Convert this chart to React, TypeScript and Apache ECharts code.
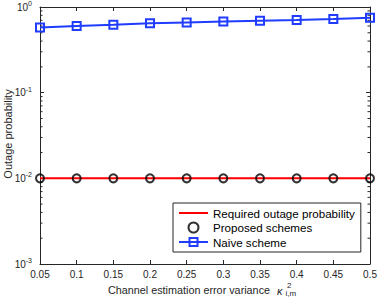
import React, { useEffect, useRef } from "react";
import * as echarts from "echarts";

const xValues = [0.05, 0.1, 0.15, 0.2, 0.25, 0.3, 0.35, 0.4, 0.45, 0.5];
const requiredOutage = [0.01, 0.01, 0.01, 0.01, 0.01, 0.01, 0.01, 0.01, 0.01, 0.01];
const proposedSchemes = [0.01, 0.01, 0.01, 0.01, 0.01, 0.01, 0.01, 0.01, 0.01, 0.01];
const naiveScheme = [0.575, 0.6, 0.62, 0.645, 0.66, 0.675, 0.69, 0.705, 0.725, 0.75];
const minorTickValues = [
  0.002, 0.003, 0.004, 0.005, 0.006, 0.007, 0.008, 0.009,
  0.02, 0.03, 0.04, 0.05, 0.06, 0.07, 0.08, 0.09,
  0.2, 0.3, 0.4, 0.5, 0.6, 0.7, 0.8, 0.9,
];
const seriesNames = ["Required outage probability", "Proposed schemes", "Naive scheme"];
const xAxisTitle = "Channel estimation error variance";
const yAxisTitle = "Outage probability";

const FONT = "Liberation Sans, Arial, Helvetica, sans-serif";
const AXIS_COLOR = "#262626";
const BLUE = "#1f3cff";
const RED = "#ff0000";

export default function App() {
  const ref = useRef<HTMLDivElement>(null);
  useEffect(() => {
    if (!ref.current) return;
    const chart = echarts.init(ref.current, undefined, { renderer: "svg" });
    const axisCommon = {
      axisLine: { show: true, lineStyle: { color: AXIS_COLOR, width: 1 } },
      splitLine: { show: false },
    };
    const textStyleBase = { fill: AXIS_COLOR, fontFamily: FONT, verticalAlign: "middle", align: "left" };
    chart.setOption({
      animation: false,
      backgroundColor: "#ffffff",
      textStyle: { fontFamily: FONT },
      grid: { left: 40, right: 12, top: 5, bottom: 38, containLabel: false },
      xAxis: [
        {
          type: "value",
          min: 0.05,
          max: 0.5,
          interval: 0.05,
          position: "bottom",
          ...axisCommon,
          axisTick: { show: true, inside: true, length: 4, lineStyle: { color: AXIS_COLOR } },
          axisLabel: {
            show: true,
            margin: 5,
            fontSize: 10,
            color: AXIS_COLOR,
            fontFamily: FONT,
            formatter: (v: number) => String(Math.round(v * 100) / 100),
          },
        },
        {
          type: "value",
          min: 0.05,
          max: 0.5,
          interval: 0.05,
          position: "top",
          ...axisCommon,
          axisTick: { show: true, inside: true, length: 4, lineStyle: { color: AXIS_COLOR } },
          axisLabel: { show: false },
        },
      ],
      yAxis: [
        {
          type: "log",
          logBase: 10,
          min: 0.001,
          max: 1,
          position: "left",
          ...axisCommon,
          axisTick: { show: true, inside: true, length: 4, lineStyle: { color: AXIS_COLOR } },
          axisLabel: {
            show: true,
            margin: 8,
            color: AXIS_COLOR,
            formatter: (v: number) => {
              const e = Math.round(Math.log10(v));
              return `{b|10}{s|${e}}`;
            },
            rich: {
              b: { fontSize: 10, color: AXIS_COLOR, fontFamily: FONT },
              s: { fontSize: 7, color: AXIS_COLOR, fontFamily: FONT, padding: [0, 0, 7, 0] },
            },
          },
        },
        {
          type: "log",
          logBase: 10,
          min: 0.001,
          max: 1,
          position: "right",
          ...axisCommon,
          axisTick: { show: true, inside: true, length: 4, lineStyle: { color: AXIS_COLOR } },
          axisLabel: { show: false },
        },
      ],
      legend: {
        data: [
          { name: seriesNames[0], itemStyle: { opacity: 0 } },
          { name: seriesNames[1] },
          { name: seriesNames[2] },
        ],
        orient: "vertical",
        left: 173,
        top: 203,
        padding: [4, 6, 4, 5],
        itemWidth: 29,
        itemHeight: 10,
        itemGap: 2.5,
        backgroundColor: "#ffffff",
        borderColor: AXIS_COLOR,
        borderWidth: 1,
        borderRadius: 0,
        textStyle: { fontSize: 11.6, color: "#000", fontFamily: FONT },
      },
      graphic: [
        {
          type: "text",
          x: 8,
          y: 134,
          rotation: Math.PI / 2,
          style: { ...textStyleBase, text: yAxisTitle, fontSize: 11, align: "center" },
        },
        {
          type: "text",
          x: 108,
          y: 290,
          style: { ...textStyleBase, text: xAxisTitle, fontSize: 10.8 },
        },
        {
          type: "text",
          x: 277,
          y: 290.5,
          style: { ...textStyleBase, text: "κ", fontSize: 11, fontStyle: "italic" },
        },
        {
          type: "text",
          x: 287,
          y: 285,
          style: { ...textStyleBase, text: "2", fontSize: 8 },
        },
        {
          type: "text",
          x: 285.5,
          y: 293,
          style: { ...textStyleBase, text: "i,m", fontSize: 8 },
        },
      ],
      series: [
        {
          name: seriesNames[0],
          type: "line",
          xAxisIndex: 0,
          yAxisIndex: 0,
          data: xValues.map((x, i) => [x, requiredOutage[i]]),
          symbol: "none",
          lineStyle: { color: RED, width: 2 },
          itemStyle: { color: RED },
          z: 2,
        },
        {
          name: seriesNames[1],
          type: "scatter",
          xAxisIndex: 0,
          yAxisIndex: 0,
          data: xValues.map((x, i) => [x, proposedSchemes[i]]),
          symbol: "circle",
          symbolSize: 8,
          itemStyle: { color: "rgba(255,255,255,0)", borderColor: "#000", borderWidth: 2 },
          z: 3,
        },
        {
          name: seriesNames[2],
          type: "line",
          xAxisIndex: 0,
          yAxisIndex: 0,
          data: xValues.map((x, i) => [x, naiveScheme[i]]),
          symbol: "rect",
          symbolSize: 8,
          showSymbol: true,
          lineStyle: { color: BLUE, width: 2 },
          itemStyle: { color: "rgba(255,255,255,0)", borderColor: BLUE, borderWidth: 2 },
          z: 3,
        },
        {
          name: "minor",
          type: "custom",
          xAxisIndex: 0,
          yAxisIndex: 0,
          clip: false,
          silent: true,
          data: minorTickValues.map((v) => [0.05, v]),
          renderItem: (params: any, api: any) => {
            const v = api.value(1);
            const pl = api.coord([0.05, v]);
            const pr = api.coord([0.5, v]);
            const style = { stroke: AXIS_COLOR, lineWidth: 1 };
            return {
              type: "group",
              children: [
                { type: "line", shape: { x1: pl[0], y1: pl[1], x2: pl[0] + 2.5, y2: pl[1] }, style },
                { type: "line", shape: { x1: pr[0], y1: pr[1], x2: pr[0] - 2.5, y2: pr[1] }, style },
              ],
            };
          },
          z: 1,
        },
      ],
    });
    return () => chart.dispose();
  }, []);
  return <div ref={ref} style={{ width: 382, height: 302, position: "absolute", left: 0, top: 0 }} />;
}
